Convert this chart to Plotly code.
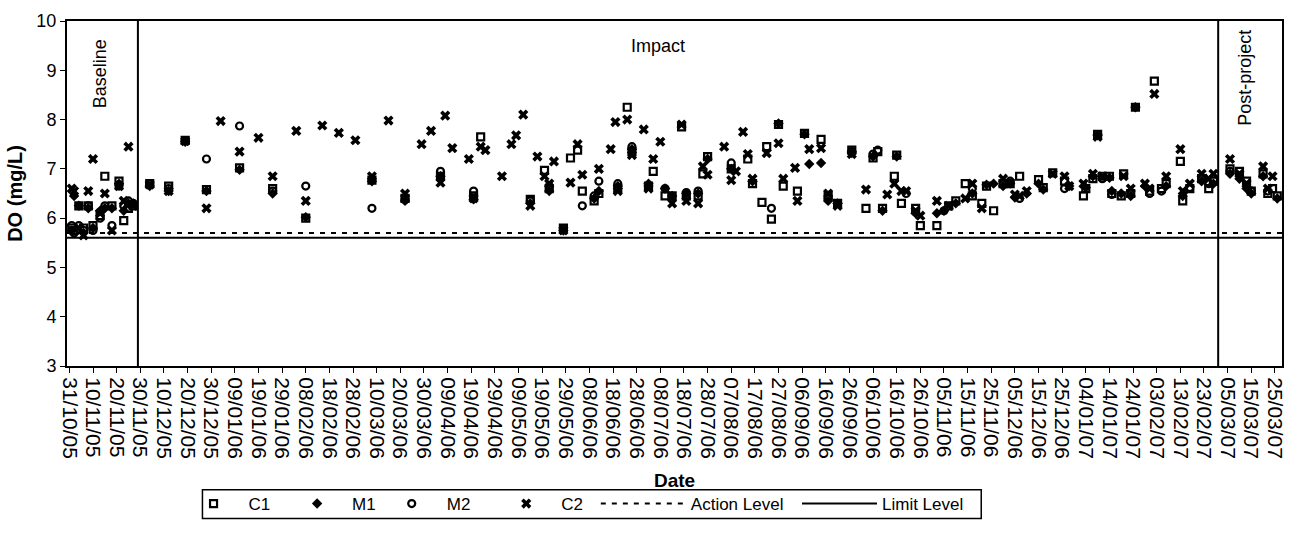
import plotly.graph_objects as go

# ---------------- data ----------------
dates = [
    "2005-11-01", "2005-11-02", "2005-11-04", "2005-11-06", "2005-11-08", "2005-11-10",
    "2005-11-13", "2005-11-15", "2005-11-18", "2005-11-21", "2005-11-23", "2005-11-25",
    "2005-11-27", "2005-12-04", "2005-12-12", "2005-12-19", "2005-12-28", "2006-01-03",
    "2006-01-11", "2006-01-19", "2006-01-25", "2006-02-04", "2006-02-08", "2006-02-15",
    "2006-02-22", "2006-03-01", "2006-03-08", "2006-03-15", "2006-03-22", "2006-03-29",
    "2006-04-02", "2006-04-06", "2006-04-08", "2006-04-11", "2006-04-18", "2006-04-20",
    "2006-04-23", "2006-04-25", "2006-05-02", "2006-05-06", "2006-05-08", "2006-05-11",
    "2006-05-14", "2006-05-17", "2006-05-20", "2006-05-22", "2006-05-24", "2006-05-28",
    "2006-05-31", "2006-06-03", "2006-06-05", "2006-06-10", "2006-06-12", "2006-06-17",
    "2006-06-19", "2006-06-20", "2006-06-24", "2006-06-26", "2006-07-01", "2006-07-03",
    "2006-07-05", "2006-07-08", "2006-07-10", "2006-07-13", "2006-07-17", "2006-07-19",
    "2006-07-24", "2006-07-26", "2006-07-28", "2006-08-04", "2006-08-07", "2006-08-09",
    "2006-08-12", "2006-08-14", "2006-08-16", "2006-08-20", "2006-08-22", "2006-08-24",
    "2006-08-27", "2006-08-29", "2006-09-03", "2006-09-04", "2006-09-07", "2006-09-09",
    "2006-09-14", "2006-09-17", "2006-09-21", "2006-09-27", "2006-10-03", "2006-10-06",
    "2006-10-08", "2006-10-10", "2006-10-12", "2006-10-15", "2006-10-16", "2006-10-18",
    "2006-10-20", "2006-10-24", "2006-10-26", "2006-11-02", "2006-11-05", "2006-11-07",
    "2006-11-10", "2006-11-14", "2006-11-17", "2006-11-21", "2006-11-23", "2006-11-26",
    "2006-11-30", "2006-12-03", "2006-12-05", "2006-12-07", "2006-12-10", "2006-12-15",
    "2006-12-17", "2006-12-21", "2006-12-26", "2006-12-28", "2007-01-03", "2007-01-04",
    "2007-01-07", "2007-01-09", "2007-01-11", "2007-01-14", "2007-01-15", "2007-01-19",
    "2007-01-20", "2007-01-23", "2007-01-25", "2007-01-29", "2007-01-31", "2007-02-02",
    "2007-02-05", "2007-02-07", "2007-02-13", "2007-02-14", "2007-02-17", "2007-02-22",
    "2007-02-25", "2007-02-27", "2007-03-06", "2007-03-10", "2007-03-13", "2007-03-15",
    "2007-03-20", "2007-03-22", "2007-03-24", "2007-03-26",
]
N = None
c1 = [5.80, 5.75, 6.25, 5.80, 6.25, 5.85, 6.05, 6.85, 6.25, 6.75, 5.95, 6.20,
      6.25, 6.70, 6.65, 7.58, 6.58, N, 7.02, N, 6.60, N, 6.00, N,
      N, N, 6.77, N, 6.40, N, N, 6.85, N, N, N, 6.45,
      7.65, N, N, N, N, N, 6.38, N, 6.97, 6.60, N, 5.80,
      7.22, 7.38, 6.55, 6.35, 6.50, N, N, 6.60, 8.25, 7.35, N, 6.65,
      6.95, N, 6.45, 6.45, 7.85, 6.45, 6.45, 6.90, 7.25, N, 7.00, N,
      N, 7.20, 6.70, 6.32, 7.45, 5.98, 7.90, 6.65, N, 6.55, 7.72, N,
      7.60, 6.45, 6.30, 7.38, 6.20, 7.22, 7.35, 6.20, N, 6.85, 7.28, 6.30,
      N, 6.20, 5.85, 5.85, N, 6.25, 6.35, 6.70, 6.45, 6.30, 6.65, 6.15,
      6.70, 6.70, N, 6.85, N, 6.78, 6.62, 6.92, 6.75, N, 6.45, 6.60,
      6.80, 7.70, 6.85, 6.85, 6.50, 6.45, 6.90, 6.50, 8.25, N, 6.55, 8.78,
      6.60, 6.70, 7.15, 6.35, 6.60, 6.80, 6.60, 6.75, 7.00, 6.95, 6.75, 6.55,
      6.90, 6.50, 6.60, 6.45]
m1 = [5.75, 6.45, 6.25, 5.70, 6.20, 5.80, 6.15, 6.20, 6.20, 6.70, 6.15, 6.30,
      6.30, 6.65, 6.55, 7.55, 6.55, N, 6.98, N, 6.50, N, 6.02, N,
      N, N, 6.75, N, 6.35, N, N, 6.85, N, N, N, 6.38,
      N, N, N, N, N, N, 6.30, N, N, 6.55, N, 5.75,
      N, N, N, 6.40, 6.55, N, N, 6.65, N, 7.40, N, 6.70,
      N, N, 6.60, 6.45, N, 6.50, 6.50, N, 7.20, N, 7.00, N,
      N, N, 6.75, N, N, N, 7.92, N, N, N, 7.70, 7.10,
      7.12, 6.35, 6.30, 7.32, N, 7.25, N, 6.15, N, N, 7.25, N,
      N, 6.10, N, 6.10, 6.15, N, 6.30, N, 6.50, N, 6.68, 6.70,
      6.65, 6.70, 6.42, N, 6.50, 6.70, 6.58, N, N, 6.65, N, 6.62,
      6.85, 7.68, N, 6.82, 6.55, 6.50, N, 6.45, 8.25, 6.65, N, N,
      N, 6.65, N, 6.45, N, 6.75, N, 6.70, 6.90, 6.80, 6.60, 6.50,
      6.85, N, N, 6.40]
m2 = [5.85, 5.70, 5.85, 5.75, 6.25, 5.75, 6.00, 6.25, 5.85, 6.65, 6.25, 6.35,
      6.30, 6.70, 6.60, 7.57, 7.20, N, 7.87, N, 6.55, N, 6.65, N,
      N, N, 6.20, N, 6.38, N, N, 6.95, N, N, N, 6.55,
      N, N, N, N, N, N, 6.35, N, N, 6.65, N, 5.78,
      N, N, 6.25, 6.45, 6.75, N, N, 6.70, N, 7.45, N, N,
      N, N, 6.60, N, N, 6.52, 6.55, N, N, N, 7.12, N,
      N, N, N, N, N, 6.20, N, N, N, N, N, N,
      N, 6.40, N, 7.35, N, 7.30, 7.38, N, N, N, N, N,
      6.50, N, N, N, 6.15, N, N, N, 6.60, N, N, N,
      N, 6.75, N, 6.40, N, N, N, N, 6.60, N, N, N,
      N, N, 6.80, N, 6.48, N, N, N, N, N, 6.50, N,
      6.55, N, N, N, 6.62, N, 6.70, N, 6.95, N, N, 6.55,
      N, 6.55, N, N]
c2 = [6.60, 6.55, 5.80, 5.65, 6.55, 7.20, 6.10, 6.50, 5.75, 6.65, 6.35, 7.45,
      6.25, 6.68, 6.55, 7.56, 6.20, 7.97, 7.35, 7.63, 6.85, 7.77, 6.35, 7.88,
      7.73, 7.58, 6.85, 7.98, 6.50, 7.50, 7.77, 6.72, 8.08, 7.42, 7.20, 6.40,
      7.45, 7.38, 6.85, 7.50, 7.68, 8.10, 6.25, 7.25, 6.85, 6.70, 7.15, 5.75,
      6.72, 7.50, 6.88, N, 7.00, 7.40, 7.95, 6.55, 8.00, 7.28, 7.80, 6.60,
      7.20, 7.55, N, 6.30, 7.90, 6.35, 6.30, 7.05, 6.88, 7.45, 6.77, 6.95,
      7.75, 7.30, 6.80, N, 7.32, N, 7.52, 6.80, 7.02, 6.35, N, 7.40,
      7.42, 6.50, 6.25, 7.30, 6.58, N, N, N, 6.48, 6.70, N, 6.55,
      6.55, 6.15, 6.05, 6.35, N, 6.25, N, 6.40, 6.70, 6.20, N, N,
      6.80, N, 6.48, 6.45, 6.55, N, N, 6.90, 6.85, 6.65, 6.70, N,
      6.90, 7.65, 6.85, N, N, N, 6.85, 6.60, N, 6.70, 6.60, 8.52,
      N, 6.85, 7.40, 6.55, 6.70, 6.90, 6.80, 6.90, 7.20, 6.90, 6.70, N,
      7.05, 6.60, 6.85, N]

action_level = 5.7
limit_level = 5.6
axis_start, axis_end = "2005-10-30", "2007-03-28"
phase_bounds = ["2005-11-29", "2007-03-01"]
phase_labels = ["Baseline", "Impact", "Post-project"]
phase_label_x = ["2005-11-13", "2006-07-07", "2007-03-12"]
phase_label_y = [8.92, 9.5, 8.85]
phase_label_angle = [-90, 0, -90]

FONT = "Arial, Liberation Sans, sans-serif"

fig = go.Figure()

# (name, values, marker style, legend id, legend left px)
series = [
    ("C1", c1, dict(symbol="square-open", size=7, line=dict(width=2.2, color="black"), color="black"), "legend", 179),
    ("M1", m1, dict(symbol="diamond", size=8, color="black"), "legend2", 283),
    ("M2", m2, dict(symbol="circle-open", size=7, line=dict(width=2.2, color="black"), color="black"), "legend3", 378),
    ("C2", c2, dict(symbol="x", size=9, color="black", line=dict(width=0)), "legend4", 493),
]
legend_pos = {}
for name, vals, mk, lg, lx in series:
    fig.add_trace(go.Scatter(x=dates, y=vals, mode="markers", name=name,
                             marker=mk, legend=lg, cliponaxis=False))
    legend_pos[lg] = (lx, 60)

fig.add_trace(go.Scatter(x=[axis_start, axis_end], y=[action_level, action_level], mode="lines",
                         name="Action Level", line=dict(color="black", width=2, dash="5px,6px"),
                         legend="legend5"))
legend_pos["legend5"] = (598, 85)
fig.add_trace(go.Scatter(x=[axis_start, axis_end], y=[limit_level, limit_level], mode="lines",
                         name="Limit Level", line=dict(color="black", width=2),
                         legend="legend6"))
legend_pos["legend6"] = (800, 75)

L, R, T, B = 67, 11, 13, 160
W, H = 1298, 533
PW = W - L - R
PH = H - T - B

def px2paper_x(p):
    return (p - L) / PW

def py2paper_y(p):
    return (H - B - p) / PH

layout_legends = {}
for lg, (lx, iw) in legend_pos.items():
    layout_legends[lg] = dict(
        x=px2paper_x(lx), xanchor="left", y=py2paper_y(517), yanchor="middle",
        orientation="h", bgcolor="rgba(0,0,0,0)", borderwidth=0, itemwidth=iw,
        font=dict(family=FONT, size=17, color="black"),
    )

shapes = []
for b in phase_bounds:
    shapes.append(dict(type="line", xref="x", yref="y", x0=b, x1=b, y0=3, y1=10,
                       line=dict(color="black", width=2)))
# legend frame
shapes.append(dict(type="rect", xref="paper", yref="paper",
                   x0=px2paper_x(203), x1=px2paper_x(985),
                   y0=py2paper_y(532), y1=py2paper_y(502),
                   line=dict(color="black", width=1.5)))

annotations = []
for t, xx, yy, ang in zip(phase_labels, phase_label_x, phase_label_y, phase_label_angle):
    annotations.append(dict(text=t, x=xx, y=yy, xref="x", yref="y", showarrow=False,
                            textangle=ang, font=dict(family=FONT, size=18, color="black")))

fig.update_layout(
    width=W, height=H,
    margin=dict(l=L, r=R, t=T, b=B),
    paper_bgcolor="white", plot_bgcolor="white",
    showlegend=True,
    shapes=shapes, annotations=annotations,
    font=dict(family=FONT, color="black"),
    **layout_legends,
)
fig.update_xaxes(
    type="date", range=[axis_start, axis_end],
    tick0="2005-10-31", dtick=10 * 86400000, tickformat="%d/%m/%y",
    tickangle=90, ticks="outside", ticklen=5, tickcolor="black",
    showline=True, linecolor="black", linewidth=2, mirror=True,
    showgrid=False, zeroline=False,
    tickfont=dict(family=FONT, size=21, color="black"),
    title=dict(text="<b>Date</b>", font=dict(family=FONT, size=19, color="black"), standoff=16),
)
fig.update_yaxes(
    range=[3, 10], dtick=1, ticks="outside", ticklen=5, tickcolor="black",
    showline=True, linecolor="black", linewidth=2, mirror=True,
    showgrid=False, zeroline=False,
    tickfont=dict(family=FONT, size=18, color="black"),
    title=dict(text="<b>DO (mg/L)</b>", font=dict(family=FONT, size=20, color="black"), standoff=8),
)

fig.write_html("out.html")
